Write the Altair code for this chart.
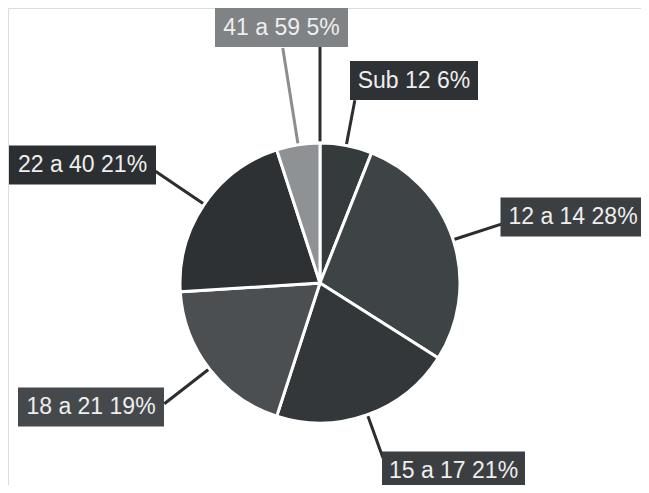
import altair as alt
import pandas as pd
import numpy as np

# Data
categories = ["Sub 12", "12 a 14", "15 a 17", "18 a 21", "22 a 40", "41 a 59"]
percent = [6, 28, 21, 19, 21, 5]
slice_colors = ["#353a3c", "#3e4345", "#33373a", "#4b4f51", "#2d3133", "#8e9294"]
box_colors = ["#2e3234", "#3b3f41", "#3b3f41", "#45494b", "#2b2f31", "#7f8385"]
line_colors = ["#2a2e30", "#2a2e30", "#2a2e30", "#2a2e30", "#2a2e30", "#8a8e90"]

# Layout (reference pixel space)
CX, CY, R = 320, 283, 140
leader_end = [186, 198, 186, 197, 199, 238]
box_cx = [414, 573, 453.5, 91, 82.5, 281.5]
box_cy = [80.5, 217, 471, 407, 165, 27.5]
box_w = [128, 145, 143, 146, 147, 133]
BOX_H = 39

df = pd.DataFrame({"cat": categories, "pct": percent, "idx": range(len(categories))})
df["label"] = [f"{c} {p}%" for c, p in zip(categories, percent)]
cum = np.cumsum(percent)
mid = (cum - np.array(percent) / 2) / 100 * 2 * np.pi
df["x1"] = CX + R * np.sin(mid)
df["y1"] = CY - R * np.cos(mid)
df["x2"] = CX + np.array(leader_end) * np.sin(mid)
df["y2"] = CY - np.array(leader_end) * np.cos(mid)
df["bx1"] = np.array(box_cx) - np.array(box_w) / 2
df["bx2"] = np.array(box_cx) + np.array(box_w) / 2
df["by1"] = np.array(box_cy) - BOX_H / 2
df["by2"] = np.array(box_cy) + BOX_H / 2
df["tx"] = box_cx
df["ty"] = box_cy

W, H = 633, 477
xs = alt.Scale(domain=[8, 8 + W], nice=False, zero=False)
ys = alt.Scale(domain=[8, 8 + H], nice=False, zero=False, reverse=True)

pie = alt.Chart(df).mark_arc(outerRadius=R, stroke="white", strokeWidth=3).encode(
    theta=alt.Theta("pct:Q", stack=True),
    order=alt.Order("idx:Q"),
    color=alt.Color("cat:N", scale=alt.Scale(domain=categories, range=slice_colors), legend=None),
    x=alt.value(CX - 8),
    y=alt.value(CY - 8),
)

top_line = alt.Chart(pd.DataFrame({"x": [CX], "y": [8], "y2": [CY - R]})).mark_rule(
    color="#2a2e30", strokeWidth=3
).encode(
    x=alt.X("x:Q", scale=xs, axis=None),
    y=alt.Y("y:Q", scale=ys, axis=None),
    y2="y2:Q",
)

leaders = alt.Chart(df).mark_rule(strokeWidth=3).encode(
    x=alt.X("x1:Q", scale=xs, axis=None),
    y=alt.Y("y1:Q", scale=ys, axis=None),
    x2="x2:Q",
    y2="y2:Q",
    color=alt.Color("cat:N", scale=alt.Scale(domain=categories, range=line_colors), legend=None),
)

boxes = alt.Chart(df).mark_rect().encode(
    x=alt.X("bx1:Q", scale=xs, axis=None),
    x2="bx2:Q",
    y=alt.Y("by1:Q", scale=ys, axis=None),
    y2="by2:Q",
    color=alt.Color("cat:N", scale=alt.Scale(domain=categories, range=box_colors), legend=None),
)

texts = alt.Chart(df).mark_text(
    color="#eeeeee", font="Liberation Sans", fontSize=23, align="center", baseline="middle"
).encode(
    x=alt.X("tx:Q", scale=xs, axis=None),
    y=alt.Y("ty:Q", scale=ys, axis=None),
    text="label:N",
)

chart = alt.layer(top_line, leaders, pie, boxes, texts).resolve_scale(color="independent").properties(
    width=W, height=H, padding=0, autosize=alt.AutoSizeParams(type="none")
).configure_view(stroke="transparent", strokeWidth=0).configure(background="white")

chart.save("out.html", embed_options={"renderer": "svg", "actions": False})
